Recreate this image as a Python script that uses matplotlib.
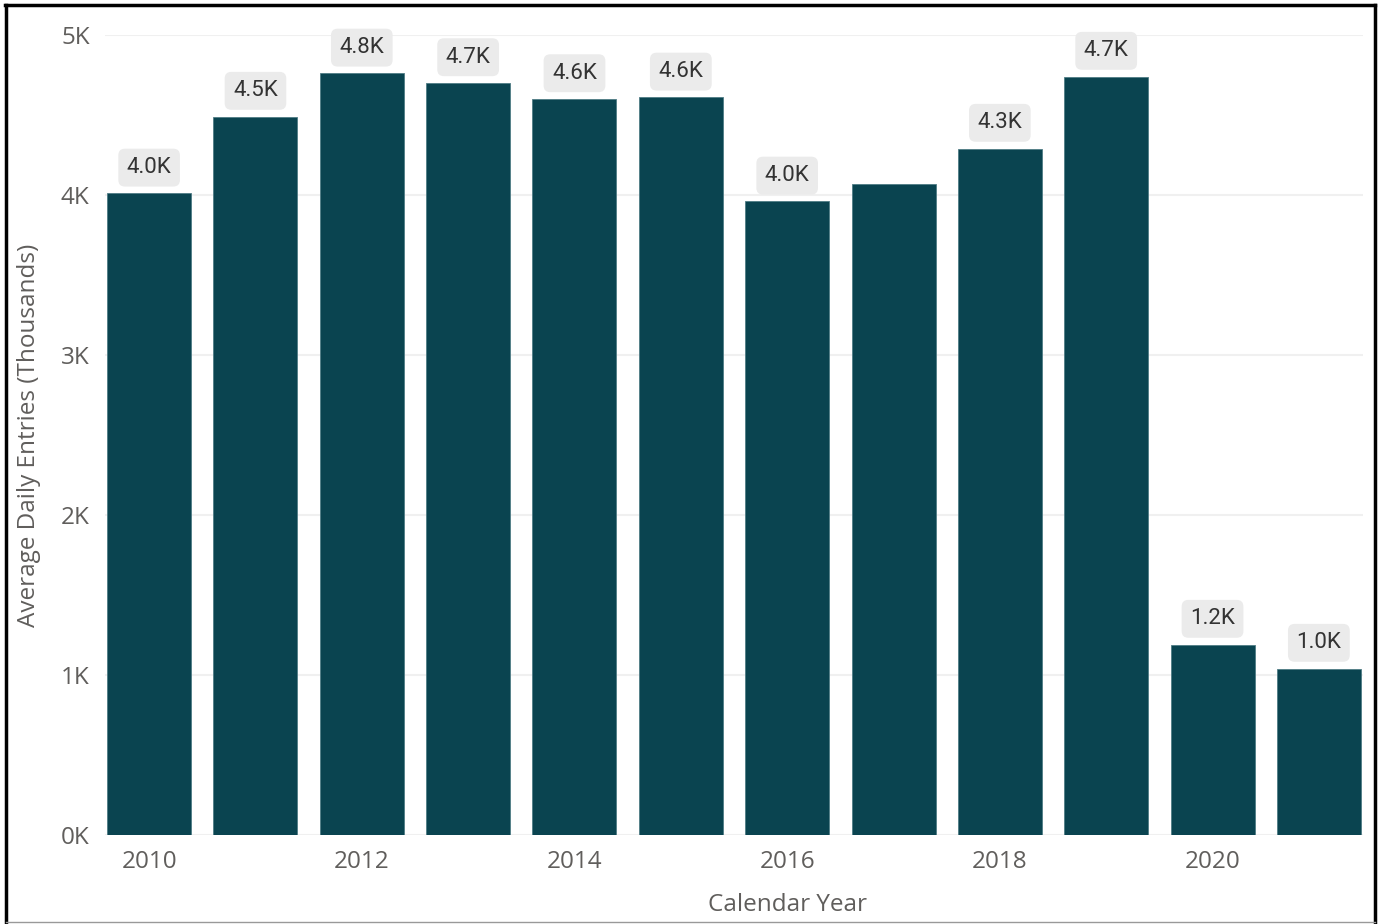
import numpy as np
import matplotlib
matplotlib.use('Agg')
import matplotlib.pyplot as plt
from matplotlib.lines import Line2D

# average daily entries, thousands
years = [2010, 2011, 2012, 2013, 2014, 2015, 2016, 2017, 2018, 2019, 2020, 2021]
entries = [4.01, 4.49, 4.76, 4.70, 4.60, 4.61, 3.96, 4.07, 4.29, 4.74, 1.19, 1.04]
labels = ['4.0K', '4.5K', '4.8K', '4.7K', '4.6K', '4.6K', '4.0K', '', '4.3K', '4.7K', '1.2K', '1.0K']
yticks = [0, 1, 2, 3, 4, 5]
xtick_years = [2010, 2012, 2014, 2016, 2018, 2020]

bar_col = '#0A4450'
txt_col = '#605E5C'

W, H = 1378, 924
fig = plt.figure(figsize=(W/100, H/100), dpi=100)
ax = fig.add_axes([105/W, (H-835)/H, (1363-105)/W, 800/H])

x = np.arange(len(years))
ax.bar(x, entries, width=0.79, color=bar_col, edgecolor='#4F7C85', linewidth=0.6, zorder=3)

ax.set_xlim(-0.415, len(years)-0.585)
ax.set_ylim(0, 5)
ax.set_yticks(yticks)
ax.set_yticklabels([f'{t}K' for t in yticks])
ax.set_xticks([years.index(y) for y in xtick_years])
ax.set_xticklabels([str(y) for y in xtick_years])
ax.grid(axis='y', color='#F0F0F0', linewidth=1.5, zorder=0)
for s in ax.spines.values():
    s.set_visible(False)
ax.tick_params(axis='both', length=0, labelsize=17.5, labelcolor=txt_col)
ax.tick_params(axis='y', pad=11)
ax.tick_params(axis='x', pad=11)
for t in ax.get_xticklabels() + ax.get_yticklabels():
    t.set_family('Open Sans')

ax.set_ylabel('Average Daily Entries (Thousands)', fontsize=17.5, color=txt_col,
              family='Open Sans', labelpad=14)
# x title sits a little right of the axis centre, as in the original
fig.text(787/W, 1-905/H, 'Calendar Year', fontsize=17.5, color=txt_col,
         family='Open Sans', ha='center', va='center')

for xi, v, lab in zip(x, entries, labels):
    if not lab:
        continue
    ax.annotate(lab, (xi, v), xytext=(0, 11), textcoords='offset points',
                ha='center', va='bottom', fontsize=16, family='Roboto', color='#333333',
                bbox=dict(boxstyle='round,pad=0.38,rounding_size=0.3', fc='#EBEBEB', ec='none'),
                annotation_clip=False, zorder=4)

# frame around the visual
fig.add_artist(Line2D([6/W, 6/W], [0, 1-5/H], color='black', lw=2.5))
fig.add_artist(Line2D([5/W, 1-3/W], [1-5/H, 1-5/H], color='black', lw=2.5))
fig.add_artist(Line2D([1-3/W, 1-3/W], [0, 1-5/H], color='black', lw=2.5))
fig.add_artist(Line2D([6/W, 1-3/W], [2/H, 2/H], color='#999999', lw=1))

plt.savefig('out.png', dpi=100)
